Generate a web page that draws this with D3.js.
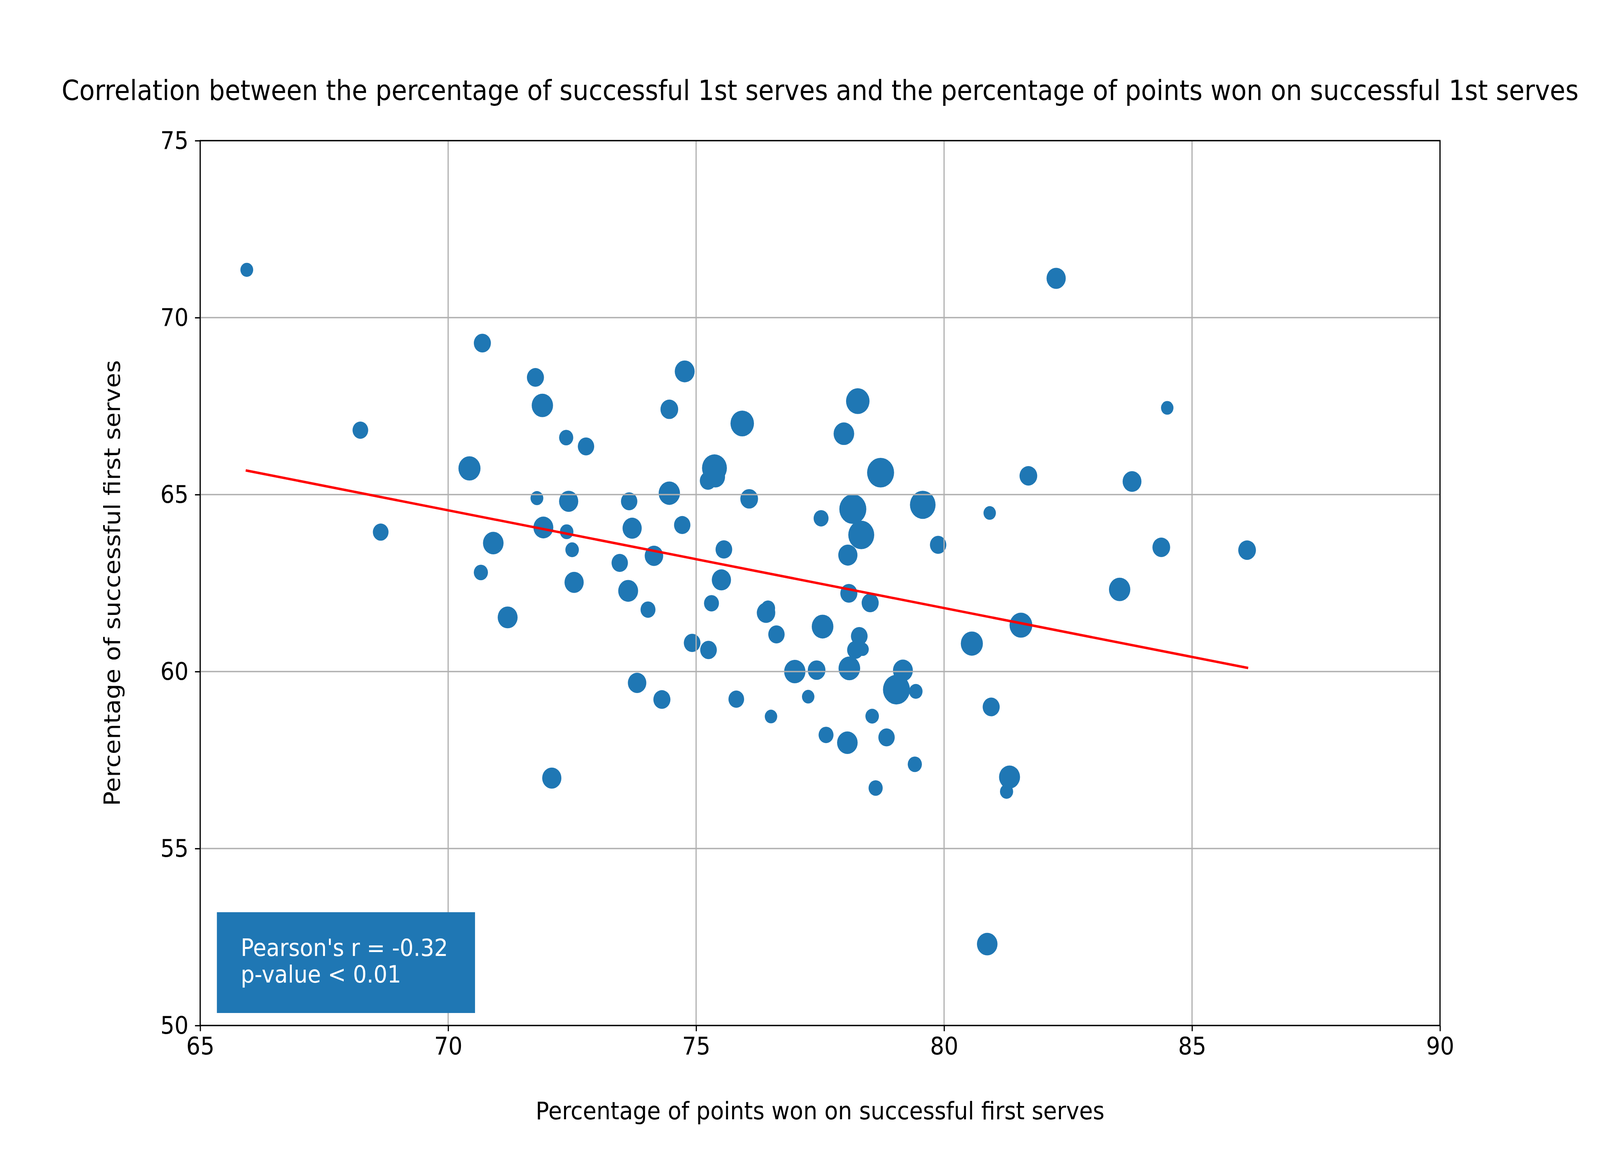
<!DOCTYPE html>
<html>
<head>
<meta charset="utf-8">
<script src="https://cdn.jsdelivr.net/npm/d3@7"></script>
<style>
  html, body { margin: 0; padding: 0; background: #ffffff; overflow: hidden; }
  svg { display: block; }
  text { font-family: "DejaVu Sans", sans-serif; }
</style>
</head>
<body>
<script>
// ---------------- data ----------------
const pointsWonPct = [
  65.94, 68.23, 68.64, 70.69, 70.43, 70.66, 70.91, 71.20, 71.76, 71.90,
  71.79, 71.92, 72.09, 72.38, 72.43, 72.39, 72.50, 72.54, 72.78, 73.46,
  73.65, 73.71, 73.63, 73.81, 74.03, 74.15, 74.31, 74.46, 74.46, 74.72,
  74.77, 74.92, 75.25, 75.24, 75.37, 75.39, 75.31, 75.51, 75.56, 75.93,
  76.07, 75.81, 76.45, 76.41, 76.51, 76.62, 76.99, 77.26, 77.43, 77.52,
  77.55, 77.62, 77.98, 78.06, 78.08, 78.05, 78.09, 78.16, 78.26, 78.33,
  78.29, 78.21, 78.36, 78.51, 78.55, 78.62, 78.72, 78.84, 79.17, 79.04,
  79.41, 79.43, 79.57, 79.88, 80.56, 80.87, 80.92, 80.95, 81.26, 81.32,
  81.55, 81.70, 82.26, 83.54, 83.79, 84.38, 84.50, 86.11
];
const firstServePct = [
  71.35, 66.82, 63.94, 69.28, 65.74, 62.80, 63.63, 61.53, 68.31, 67.52,
  64.90, 64.07, 56.99, 66.61, 64.81, 63.95, 63.44, 62.52, 66.36, 63.07,
  64.81, 64.05, 62.28, 59.68, 61.75, 63.27, 59.21, 67.41, 65.04, 64.14,
  68.48, 60.81, 60.61, 65.39, 65.75, 65.50, 61.93, 62.59, 63.45, 67.01,
  64.88, 59.22, 61.79, 61.66, 58.73, 61.05, 60.00, 59.29, 60.04, 64.33,
  61.27, 58.21, 66.72, 63.29, 62.21, 57.99, 60.09, 64.59, 67.64, 63.86,
  61.00, 60.61, 60.63, 61.94, 58.74, 56.71, 65.62, 58.14, 60.03, 59.49,
  57.38, 59.44, 64.71, 63.58, 60.79, 52.30, 64.48, 59.00, 56.61, 57.02,
  61.31, 65.53, 71.11, 62.32, 65.37, 63.51, 67.45, 63.43
];
// third variable, encoded as marker area
const markerWeight = [
  36, 54, 54, 64, 107, 44, 93, 87, 64, 100,
  36, 87, 81, 44, 81, 40, 40, 81, 59, 59,
  59, 81, 87, 75, 49, 75, 64, 69, 100, 59,
  87, 61, 61, 59, 136, 81, 49, 81, 61, 121,
  69, 54, 44, 75, 34, 59, 100, 34, 69, 49,
  103, 49, 93, 81, 64, 93, 103, 160, 121, 148,
  61, 59, 32, 64, 40, 44, 160, 59, 87, 160,
  44, 40, 144, 59, 107, 93, 34, 64, 38, 97,
  114, 69, 81, 100, 78, 69, 34, 69
];
const regression = { slope: -0.2762, intercept: 83.89 };
const pearsonR = -0.32;
const pValueText = "p-value < 0.01";
const xTicks = [65, 70, 75, 80, 85, 90];
const yTicks = [50, 55, 60, 65, 70, 75];
const titleText = "Correlation between the percentage of successful 1st serves and the percentage of points won on successful 1st serves";
const xLabelText = "Percentage of points won on successful first serves";
const yLabelText = "Percentage of successful first serves";

// ---------------- layout (designed in a 4500x3000 space, fitted to the window) ----------------
const W = 4500, H = 3000;
const L = 563, R = 4050, T = 360, B = 2625;
const blue = "#1f77b4";
const lw = 3.33;

const vw = window.innerWidth || W, vh = window.innerHeight || H;
const svg = d3.select("body").append("svg")
  .attr("width", vw).attr("height", vh)
  .attr("viewBox", `0 0 ${W} ${H}`).attr("preserveAspectRatio", "none");
svg.append("rect").attr("width", W).attr("height", H).attr("fill", "#fff");

const x = d3.scaleLinear().domain([65, 90]).range([L, R]);
const y = d3.scaleLinear().domain([50, 75]).range([B, T]);
const r = d3.scaleSqrt().domain([0, 100]).range([0, 30]);

const data = pointsWonPct.map((v, i) => ({ x: v, y: firstServePct[i], w: markerWeight[i] }));

// points
svg.append("g").selectAll("circle").data(data).join("circle")
  .attr("cx", d => x(d.x)).attr("cy", d => y(d.y)).attr("r", d => r(d.w))
  .attr("fill", blue);

// grid (drawn over the points, as in the reference)
const grid = svg.append("g").attr("stroke", "#b0b0b0").attr("stroke-width", lw);
grid.selectAll(".gx").data(xTicks).join("line")
  .attr("x1", d => x(d)).attr("x2", d => x(d)).attr("y1", T).attr("y2", B);
grid.selectAll(".gy").data(yTicks).join("line")
  .attr("y1", d => y(d)).attr("y2", d => y(d)).attr("x1", L).attr("x2", R);

// regression line over the data range
const xr = d3.extent(pointsWonPct);
const fit = xr.map(v => [v, regression.intercept + regression.slope * v]);
svg.append("path")
  .attr("d", d3.line().x(d => x(d[0])).y(d => y(d[1]))(fit))
  .attr("stroke", "#ff0000").attr("stroke-width", 6.25).attr("fill", "none")
  .attr("stroke-linecap", "square");

// axes
const tickLen = 14.6;
const xAxis = svg.append("g").attr("transform", `translate(0,${B})`)
  .call(d3.axisBottom(x).tickValues(xTicks).tickFormat(d3.format("d"))
    .tickSize(tickLen).tickPadding(14.6));
const yAxis = svg.append("g").attr("transform", `translate(${L},0)`)
  .call(d3.axisLeft(y).tickValues(yTicks).tickFormat(d3.format("d"))
    .tickSize(tickLen).tickPadding(18));
[xAxis, yAxis].forEach(g => {
  g.select(".domain").remove();
  g.selectAll(".tick line").attr("stroke", "#000").attr("stroke-width", lw);
  g.selectAll(".tick text").attr("fill", "#000")
    .style("font-family", "'DejaVu Sans', sans-serif").style("font-size", "62.5px");
});

// spines
svg.append("rect").attr("x", L).attr("y", T).attr("width", R - L).attr("height", B - T)
  .attr("fill", "none").attr("stroke", "#000").attr("stroke-width", lw);

// title and axis labels
svg.append("text").attr("x", (L + R) / 2).attr("y", 256).attr("text-anchor", "middle")
  .style("font-size", "71px").attr("fill", "#000").text(titleText);
svg.append("text").attr("x", (L + R) / 2).attr("y", 2865).attr("text-anchor", "middle")
  .style("font-size", "62.5px").attr("fill", "#000").text(xLabelText);
svg.append("text").attr("transform", `translate(337,${(T + B) / 2}) rotate(-90)`)
  .attr("text-anchor", "middle").style("font-size", "62.5px").attr("fill", "#000").text(yLabelText);

// annotation box
const ann = svg.append("g");
ann.append("rect").attr("x", 610).attr("y", 2335).attr("width", 726).attr("height", 258).attr("fill", blue);
const annText = ann.append("text").attr("fill", "#fff").style("font-size", "61px");
annText.append("tspan").attr("x", 677).attr("y", 2447).text(`Pearson's r = ${pearsonR.toFixed(2)}`);
annText.append("tspan").attr("x", 677).attr("y", 2515.5).text(pValueText);
</script>
</body>
</html>
